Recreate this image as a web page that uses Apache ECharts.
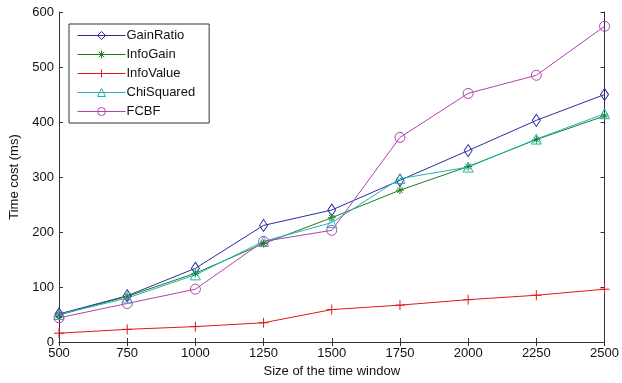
<!DOCTYPE html>
<html><head><meta charset="utf-8">
<script src="https://cdn.jsdelivr.net/npm/echarts@6/dist/echarts.min.js"></script>
<style>html,body{margin:0;padding:0;background:#fff}#c{width:622px;height:383px}</style>
</head><body><div id="c"></div>
<script>
const categories = [500, 750, 1000, 1250, 1500, 1750, 2000, 2250, 2500];
const gainRatio  = [51, 84, 134, 212, 240, 294, 348, 403, 450];
const infoGain   = [49, 83, 125, 179, 226, 276, 319, 368, 411];
const infoValue  = [16, 23, 28, 35, 59, 67, 77, 85, 96];
const chiSquared = [50, 80, 122, 183, 217, 297, 318, 369, 415];
const fcbf       = [44, 70, 96, 183, 203, 372, 452, 485, 574];
const seriesNames = ['GainRatio', 'InfoGain', 'InfoValue', 'ChiSquared', 'FCBF'];
const yTicks = [0, 100, 200, 300, 400, 500, 600];

const font = 'Liberation Sans, Arial, sans-serif';
const colors = ['#2b2ba0', '#1a7d1a', '#e01818', '#22b4b4', '#b040b0'];
const symbols = ['diamond', 'path://M5,0L5,10M0,5L10,5M1.5,1.5L8.5,8.5M8.5,1.5L1.5,8.5',
  'path://M5,0L5,10M0,5L10,5', 'triangle', 'circle'];
const sizes = [[8, 12], 8, 10, 10, 10];
const values = [gainRatio, infoGain, infoValue, chiSquared, fcbf];

const chart = echarts.init(document.getElementById('c'), null, {renderer: 'canvas'});
const axisCommon = {
  axisLine: {show: true, lineStyle: {color: '#333', width: 1}},
  axisTick: {show: true, inside: true, length: 4, lineStyle: {color: '#333'}},
  splitLine: {show: false}
};
chart.setOption({
  animation: false,
  grid: {left: 58, right: 15, top: 12, bottom: 37, containLabel: false},
  legend: {
    orient: 'vertical', left: 69, top: 24, itemWidth: 48, itemHeight: 10, itemGap: 6,
    padding: [5, 14, 5, 8], borderColor: '#333', borderWidth: 1, backgroundColor: '#fff',
    textStyle: {fontFamily: font, fontSize: 13, color: '#111', padding: [0,0,0,-4]},
    data: seriesNames.map((n, i) => ({
      name: n,
      itemStyle: {color: 'rgba(255,255,255,0)', borderColor: colors[i], borderWidth: 1},
      lineStyle: {color: colors[i], width: 1}
    }))
  },
  xAxis: [
    Object.assign({type: 'value', min: 500, max: 2500, interval: 250, position: 'bottom',
      name: 'Size of the time window', nameLocation: 'middle', nameGap: 23,
      nameTextStyle: {fontFamily: font, fontSize: 13, color: '#111'},
      axisLabel: {fontFamily: font, fontSize: 13, color: '#111', margin: 5, formatter: v => String(v)}}, axisCommon),
    Object.assign({type: 'value', min: 500, max: 2500, interval: 250, position: 'top',
      axisLabel: {show: false}}, axisCommon)
  ],
  yAxis: [
    Object.assign({type: 'value', min: 0, max: 600, interval: 100, position: 'left',
      name: 'Time cost (ms)', nameLocation: 'middle', nameGap: 38, nameRotate: 90,
      nameTextStyle: {fontFamily: font, fontSize: 13, color: '#111'},
      axisLabel: {fontFamily: font, fontSize: 13, color: '#111', margin: 5,
        formatter: v => yTicks.includes(v) ? String(v) : ''}}, axisCommon),
    Object.assign({type: 'value', min: 0, max: 600, interval: 100, position: 'right',
      axisLabel: {show: false}}, axisCommon)
  ],
  series: seriesNames.map((name, i) => ({
    name, type: 'line', data: categories.map((x, j) => [x, values[i][j]]),
    symbol: symbols[i], symbolSize: sizes[i], color: colors[i],
    lineStyle: {color: colors[i], width: 1},
    itemStyle: {color: 'rgba(255,255,255,0)', borderColor: colors[i], borderWidth: 1},
    emphasis: {disabled: true}
  }))
});
</script></body></html>
